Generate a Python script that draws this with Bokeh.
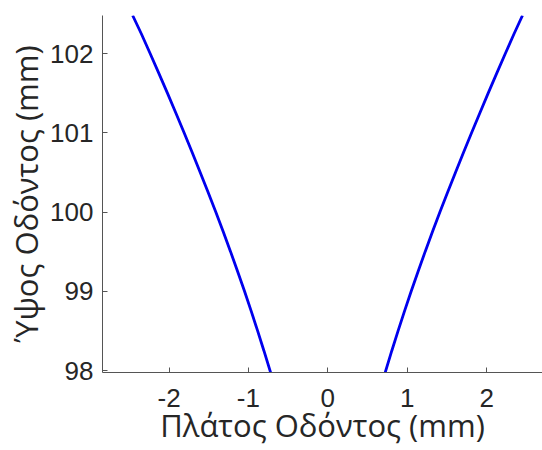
from bokeh.plotting import figure
from bokeh.models import Range1d, FixedTicker
from bokeh.embed import file_html
from bokeh.resources import INLINE

# Data (tooth profile flanks)
height_mm = [97.96, 98.25, 98.5, 98.75, 99.0, 99.25, 99.5, 99.75, 100.0, 100.25,
             100.5, 100.75, 101.0, 101.25, 101.5, 101.75, 102.0, 102.25, 102.48]
left_flank_x = [-0.716, -0.805, -0.884, -0.965, -1.049, -1.136, -1.225, -1.317, -1.411, -1.508,
                -1.607, -1.708, -1.810, -1.914, -2.020, -2.128, -2.238, -2.349, -2.458]
right_flank_x = [0.718, 0.806, 0.885, 0.966, 1.050, 1.137, 1.226, 1.318, 1.412, 1.509,
                 1.608, 1.709, 1.811, 1.915, 2.020, 2.127, 2.236, 2.346, 2.452]

x_ticks = [-2, -1, 0, 1, 2]
y_ticks = [98, 99, 100, 101, 102]

x_label = "Πλάτος Οδόντος (mm)"
y_label = "Ύψος Οδόντος (mm)"

x_rng = Range1d(-2.838, 2.704)
y_rng = Range1d(97.975, 102.48)

p = figure(width=542, height=450, output_backend="svg", toolbar_location=None,
           x_range=x_rng, y_range=y_rng,
           min_border_left=102, min_border_right=0, min_border_top=15, min_border_bottom=78)

p.line(left_flank_x, height_mm, line_color="#0000ee", line_width=2.8)
p.line(right_flank_x, height_mm, line_color="#0000ee", line_width=2.8)

p.outline_line_color = None
p.grid.grid_line_color = None
p.background_fill_color = "white"

tick_font = "Liberation Sans"
label_font = "Open Sans"
for ax in (p.xaxis, p.yaxis):
    ax.axis_line_color = "#555555"
    ax.axis_line_width = 1
    ax.major_tick_line_color = "#555555"
    ax.major_tick_in = 5
    ax.major_tick_out = 0
    ax.minor_tick_line_color = None
    ax.major_label_text_font = tick_font
    ax.major_label_text_font_size = "26px"
    ax.major_label_text_color = "#262626"
    ax.axis_label_text_font = label_font
    ax.axis_label_text_font_size = "31px"
    ax.axis_label_text_font_style = "normal"
    ax.axis_label_text_color = "#262626"

p.xaxis.ticker = FixedTicker(ticks=x_ticks)
p.yaxis.ticker = FixedTicker(ticks=y_ticks)
p.xaxis.major_label_overrides = {t: str(t) for t in x_ticks}
p.xaxis.axis_label = x_label
p.yaxis.axis_label = y_label
p.xaxis.major_label_standoff = 16
p.yaxis.major_label_standoff = 9
p.xaxis.axis_label_standoff = -6
p.yaxis.axis_label_standoff = 0

open("out.html", "w").write(file_html(p, INLINE))
